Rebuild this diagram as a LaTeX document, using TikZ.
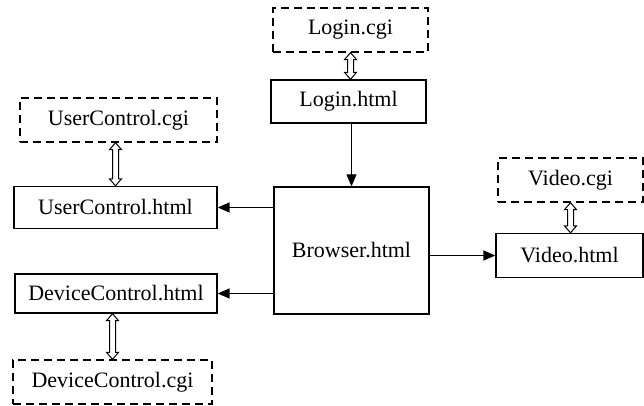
\documentclass[tikz,border=0pt]{standalone}
\usepackage{fontspec}
\setmainfont{Liberation Serif}
\usetikzlibrary{arrows.meta,calc}
\tikzset{
  box/.style={draw, line width=1.3pt, inner sep=0pt, font=\fontsize{22}{26}\selectfont},
  cgibox/.style={box, dashed, dash pattern=on 8pt off 5pt},
  flow/.style={line width=1.4pt, -{Triangle[length=12pt,width=10pt]}},
  thinflow/.style={line width=0.9pt, -{Triangle[length=12pt,width=10pt]}},
  hollow/.style={draw, line width=1pt, fill=white, line join=miter}
}
\newcommand\hollowarrow[3]{%
  \coordinate (ha1) at (#1.south -| #3);
  \coordinate (ha2) at (#2.north -| #3);
  \draw[hollow] (ha1) -- ++(6,7) -- ++(-3,0) -- ($(ha2)+(3,-7)$) -- ++(3,0) -- (ha2)
    -- ++(-6,-7) -- ++(3,0) -- ($(ha1)+(-3,7)$) -- ++(-3,0) -- cycle;
}
\begin{document}
\begin{tikzpicture}[x=1pt,y=-1pt]
\useasboundingbox (0,0) rectangle (644,406);
\node[cgibox, minimum width=155pt, minimum height=44pt] (logincgi) at (350.5,30) {Login.cgi};
\node[box, minimum width=155pt, minimum height=43pt] (loginhtml) at (348.5,101.5) {Login.html};
\node[box, minimum width=155pt, minimum height=127pt] (browser) at (351.5,250.5) {Browser.html};
\node[cgibox, minimum width=197pt, minimum height=44pt] (ucgi) at (118.5,120) {UserControl.cgi};
\node[box, minimum width=203pt, minimum height=42pt] (uhtml) at (115.5,207.5) {UserControl.html};
\node[box, minimum width=202pt, minimum height=39pt] (dhtml) at (116,293.5) {DeviceControl.html};
\node[cgibox, minimum width=199pt, minimum height=44pt] (dcgi) at (112.5,382) {DeviceControl.cgi};
\node[cgibox, minimum width=145pt, minimum height=44pt] (vcgi) at (570.5,180) {Video.cgi};
\node[box, minimum width=147pt, minimum height=44pt] (vhtml) at (569.5,255.5) {Video.html};

\hollowarrow{logincgi}{loginhtml}{logincgi}
\hollowarrow{ucgi}{uhtml}{uhtml}
\hollowarrow{dhtml}{dcgi}{dcgi}
\hollowarrow{vcgi}{vhtml}{vcgi}

\draw[thinflow] (loginhtml.south -| browser) -- (browser.north);
\draw[flow] (browser.west |- uhtml.east) -- (uhtml.east);
\draw[flow] (browser.west |- dhtml.east) -- (dhtml.east);
\draw[flow] (browser.east |- vhtml.west) -- (vhtml.west);
\end{tikzpicture}
\end{document}
